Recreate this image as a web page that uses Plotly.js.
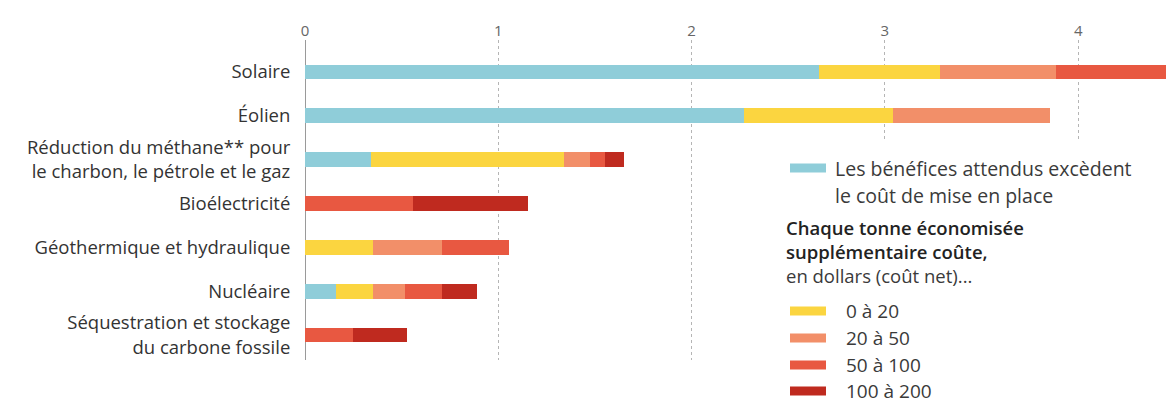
<!DOCTYPE html>
<html>
<head>
<meta charset="utf-8">
<script src="https://cdn.plot.ly/plotly-3.0.1.min.js"></script>
<style>
html,body{margin:0;padding:0;background:#fff;}
#chart{width:1166px;height:407px;}
</style>
</head>
<body>
<div id="chart"></div>
<script>
// ---- Data (in Gt CO2e) ----
const categories = [
  "Solaire",
  "Éolien",
  "Réduction du méthane** pour<br>le charbon, le pétrole et le gaz",
  "Bioélectricité",
  "Géothermique et hydraulique",
  "Nucléaire",
  "Séquestration et stockage<br>du carbone fossile"
];
const benefits = [2.66, 2.27, 0.34, 0, 0, 0.16, 0];
const cost0to20 = [0.625, 0.77, 1.00, 0, 0.35, 0.19, 0];
const cost20to50 = [0.60, 0.815, 0.135, 0, 0.36, 0.165, 0];
const cost50to100 = [0.72, 0, 0.075, 0.56, 0.345, 0.195, 0.25];
const cost100to200 = [0, 0, 0.10, 0.595, 0, 0.18, 0.28];

const xTickVals = [0, 1, 2, 3, 4];
const xTickText = ["0", "1", "2", "3", "4"];

const seriesNames = ["Les bénéfices attendus excèdent le coût de mise en place", "0 à 20", "20 à 50", "50 à 100", "100 à 200"];
const legendLabels = ["0 à 20", "20 à 50", "50 à 100", "100 à 200"];
const colors = ["#8fcdd9", "#fbd540", "#f28f69", "#e85841", "#bf2a1f"];

// ---- Layout helpers ----
const W = 1166, H = 407;
const M = {l: 305, r: 0, t: 40, b: 47};
const PW = W - M.l - M.r, PH = H - M.t - M.b;
const px = x => (x - M.l) / PW;
const py = y => 1 - (y - M.t) / PH;

const FONT = "'Open Sans', 'Noto Sans', sans-serif";
const seriesData = [benefits, cost0to20, cost20to50, cost50to100, cost100to200];

const traces = seriesData.map((vals, i) => ({
  type: "bar",
  orientation: "h",
  name: seriesNames[i],
  y: categories,
  x: vals,
  width: 0.34,
  marker: {color: colors[i], line: {width: 0}},
  showlegend: false,
  hoverinfo: "skip"
}));

const shapes = [
  // white panel behind the legend (hides gridlines 3 & 4 there)
  {type: "rect", xref: "paper", yref: "paper", x0: px(770), x1: px(1166), y0: py(407), y1: py(140),
   fillcolor: "#ffffff", line: {width: 0}, layer: "above"}
];
const annotations = [];

function swatch(x0, yc, color) {
  shapes.push({type: "rect", xref: "paper", yref: "paper",
    x0: px(x0), x1: px(x0 + 36), y0: py(yc + 4.5), y1: py(yc - 4.5),
    fillcolor: color, line: {width: 0}, layer: "above"});
}
function label(x, yc, text, opts) {
  annotations.push(Object.assign({xref: "paper", yref: "paper", x: px(x), y: py(yc),
    xanchor: "left", yanchor: "middle", showarrow: false, align: "left", borderpad: 0,
    text: text, font: {family: FONT, size: 19.5, color: "#3a3a3a"}}, opts || {}));
}

swatch(790, 168, colors[0]);
label(834, 168, "Les bénéfices attendus excèdent");
label(834, 195, "le coût de mise en place");
label(785, 251,
  "<span style='font-weight:600;fill:#222'>Chaque tonne économisée<br>supplémentaire coûte,</span><br>en dollars (coût net)...",
  {font: {family: FONT, size: 18.5, color: "#3a3a3a"}});
const itemY = [311, 338, 365, 391];
legendLabels.forEach((t, i) => {
  swatch(790, itemY[i], colors[i + 1]);
  label(845, itemY[i], t, {font: {family: FONT, size: 19, color: "#3a3a3a"}});
});

const layout = {
  width: W, height: H,
  margin: M,
  paper_bgcolor: "#fff", plot_bgcolor: "#fff",
  barmode: "stack",
  showlegend: false,
  font: {family: FONT, color: "#333"},
  xaxis: {
    side: "top",
    range: [0, (W - M.l) / 193.3],
    tickvals: xTickVals, ticktext: xTickText,
    tickfont: {family: FONT, size: 15, color: "#666"},
    showgrid: true, gridcolor: "#b5b5b5", griddash: "dot", gridwidth: 1,
    zeroline: true, zerolinecolor: "#9a9a9a", zerolinewidth: 1,
    showline: false, ticks: "", fixedrange: true
  },
  yaxis: {
    range: [6.57, -0.73],
    tickfont: {family: FONT, size: 18.5, color: "#333"},
    showgrid: false, zeroline: false, showline: false,
    ticks: "outside", ticklen: 10, tickcolor: "rgba(0,0,0,0)",
    fixedrange: true
  },
  shapes: shapes,
  annotations: annotations
};

Plotly.newPlot("chart", traces, layout, {displayModeBar: false, staticPlot: true});
</script>
</body>
</html>
